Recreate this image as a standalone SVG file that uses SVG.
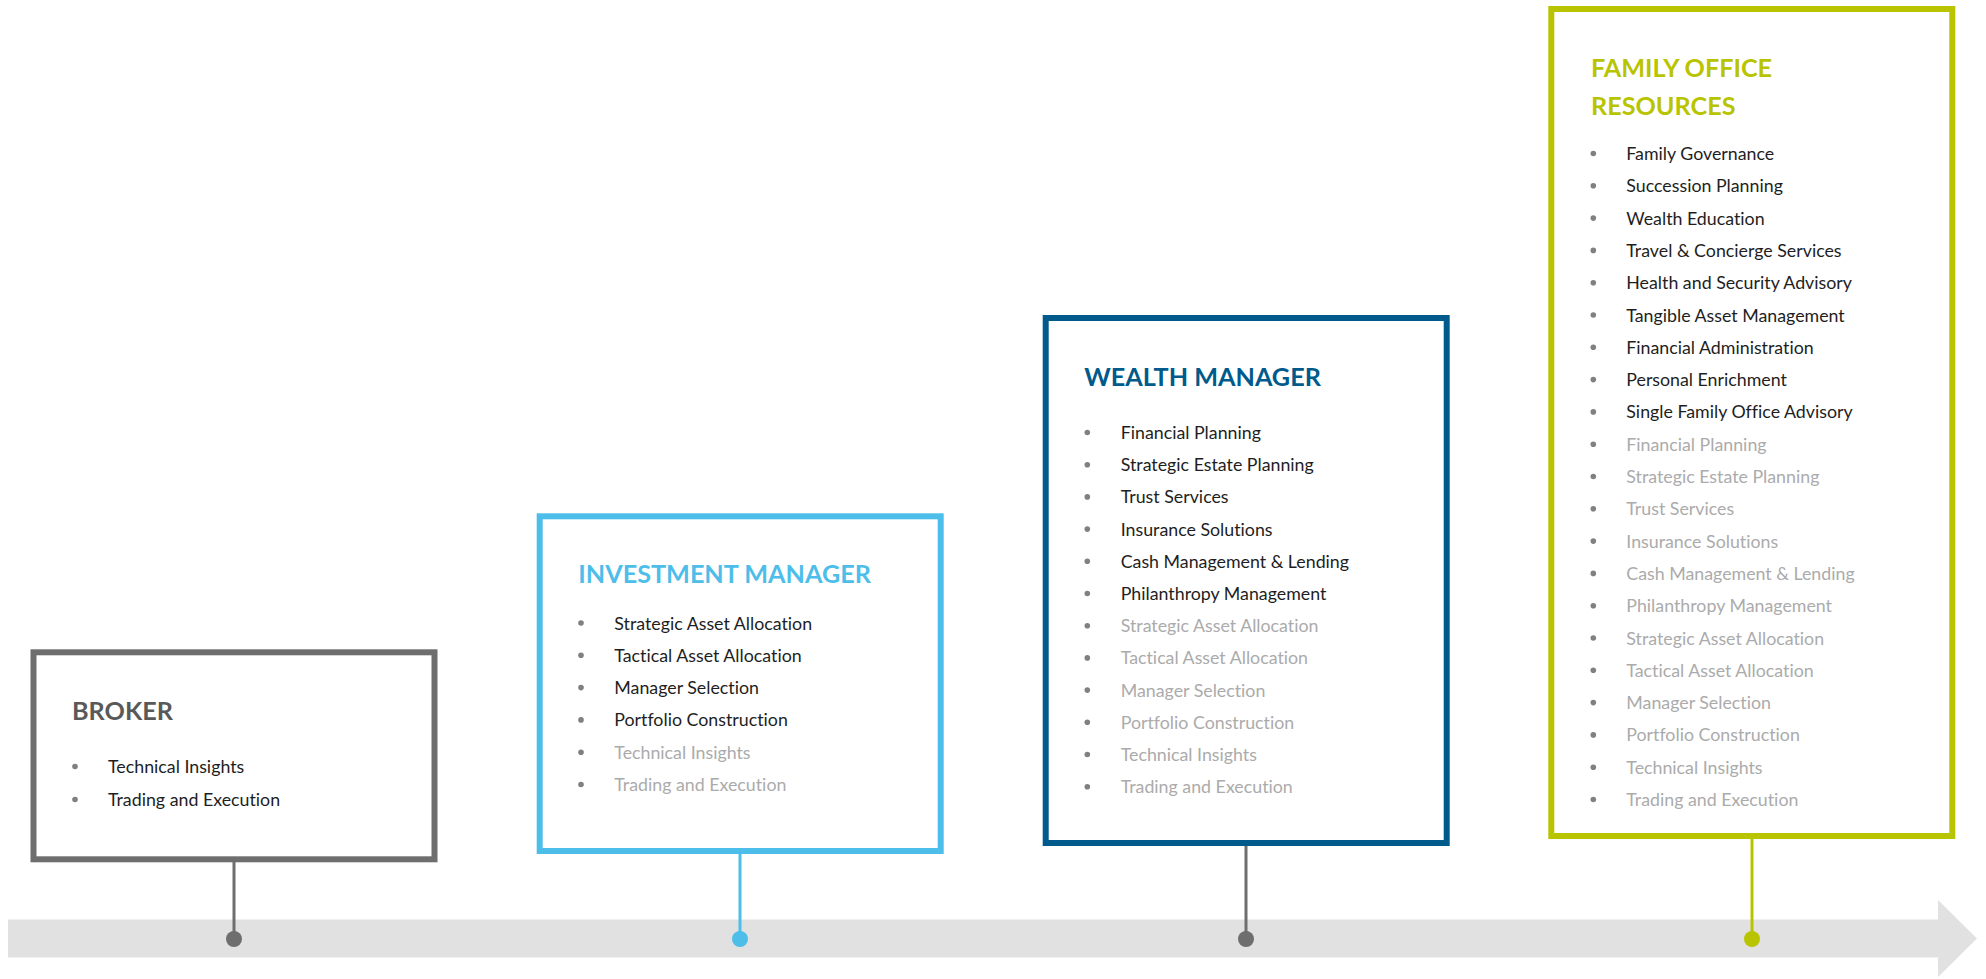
<svg xmlns="http://www.w3.org/2000/svg" width="1986" height="979" viewBox="0 0 1986 979">
<style>
text{font-family:Lato,"Liberation Sans",sans-serif;font-variant-ligatures:none}
.t{font-weight:700;font-size:25.2px}
.i{font-size:17.8px;fill:#1e1e1e}
.g{font-size:17.8px;fill:#ababab}
.b{fill:#808080}
.box{fill:#fff;stroke-width:6}
</style>
<rect width="1986" height="979" fill="#fff"/>
<g id="timeline">
<polygon points="8,919.5 1938,919.5 1938,900 1977,938.5 1938,977 1938,957.5 8,957.5" fill="#e1e1e1"/>
</g>
<g id="connectors" stroke-width="3">
<line x1="234" y1="862" x2="234" y2="939" stroke="#6e6e6e"/>
<circle cx="234" cy="939" r="8" fill="#6e6e6e"/>
<line x1="740" y1="854" x2="740" y2="939" stroke="#4dbee9"/>
<circle cx="740" cy="939" r="8" fill="#4dbee9"/>
<line x1="1246" y1="846" x2="1246" y2="939" stroke="#6e6e6e"/>
<circle cx="1246" cy="939" r="8" fill="#6e6e6e"/>
<line x1="1752" y1="839" x2="1752" y2="939" stroke="#b9c400"/>
<circle cx="1752" cy="939" r="8" fill="#b9c400"/>
</g>
<g id="broker">
<rect class="box" x="33.5" y="652.3" width="401" height="207" stroke="#6e6e6e"/>
<text class="t" x="72" y="720" fill="#595959">BROKER</text>
<circle class="b" cx="75" cy="766.5" r="2.8"/><text class="i" x="108" y="773.3">Technical Insights</text>
<circle class="b" cx="75" cy="799.5" r="2.8"/><text class="i" x="108" y="806">Trading and Execution</text>
</g>
<g id="investment-manager">
<rect class="box" x="539.7" y="516.3" width="401" height="334.7" stroke="#4dbee9"/>
<text class="t" x="578.3" y="583.3" fill="#4dbee9">INVESTMENT MANAGER</text>
<circle class="b" cx="581" cy="623" r="2.8"/><text class="i" x="614.3" y="629.5">Strategic Asset Allocation</text>
<circle class="b" cx="581" cy="655.3" r="2.8"/><text class="i" x="614.3" y="661.8">Tactical Asset Allocation</text>
<circle class="b" cx="581" cy="687.6" r="2.8"/><text class="i" x="614.3" y="694.1">Manager Selection</text>
<circle class="b" cx="581" cy="719.9" r="2.8"/><text class="i" x="614.3" y="726.4">Portfolio Construction</text>
<circle class="b" cx="581" cy="752.2" r="2.8"/><text class="g" x="614.3" y="758.7">Technical Insights</text>
<circle class="b" cx="581" cy="784.5" r="2.8"/><text class="g" x="614.3" y="791">Trading and Execution</text>
</g>
<g id="wealth-manager">
<rect class="box" x="1045.7" y="318" width="401" height="525" stroke="#005a8b"/>
<text class="t" x="1084.3" y="385.5" fill="#005a8b">WEALTH MANAGER</text>
<circle class="b" cx="1087.3" cy="432.5" r="2.8"/><text class="i" x="1120.7" y="439">Financial Planning</text>
<circle class="b" cx="1087.3" cy="464.7" r="2.8"/><text class="i" x="1120.7" y="471.2">Strategic Estate Planning</text>
<circle class="b" cx="1087.3" cy="496.9" r="2.8"/><text class="i" x="1120.7" y="503.4">Trust Services</text>
<circle class="b" cx="1087.3" cy="529.1" r="2.8"/><text class="i" x="1120.7" y="535.6">Insurance Solutions</text>
<circle class="b" cx="1087.3" cy="561.3" r="2.8"/><text class="i" x="1120.7" y="567.8">Cash Management &amp; Lending</text>
<circle class="b" cx="1087.3" cy="593.5" r="2.8"/><text class="i" x="1120.7" y="600">Philanthropy Management</text>
<circle class="b" cx="1087.3" cy="625.7" r="2.8"/><text class="g" x="1120.7" y="632.2">Strategic Asset Allocation</text>
<circle class="b" cx="1087.3" cy="657.9" r="2.8"/><text class="g" x="1120.7" y="664.4">Tactical Asset Allocation</text>
<circle class="b" cx="1087.3" cy="690.1" r="2.8"/><text class="g" x="1120.7" y="696.6">Manager Selection</text>
<circle class="b" cx="1087.3" cy="722.3" r="2.8"/><text class="g" x="1120.7" y="728.8">Portfolio Construction</text>
<circle class="b" cx="1087.3" cy="754.5" r="2.8"/><text class="g" x="1120.7" y="761">Technical Insights</text>
<circle class="b" cx="1087.3" cy="786.7" r="2.8"/><text class="g" x="1120.7" y="793.2">Trading and Execution</text>
</g>
<g id="family-office-resources">
<rect class="box" x="1551.3" y="9" width="401" height="827" stroke="#b9c400"/>
<text class="t" fill="#b9c400"><tspan x="1591" y="76.7">FAMILY OFFICE</tspan><tspan x="1591" y="115">RESOURCES</tspan></text>
<circle class="b" cx="1593.3" cy="153.5" r="2.8"/><text class="i" x="1626.3" y="160">Family Governance</text>
<circle class="b" cx="1593.3" cy="185.8" r="2.8"/><text class="i" x="1626.3" y="192.3">Succession Planning</text>
<circle class="b" cx="1593.3" cy="218.1" r="2.8"/><text class="i" x="1626.3" y="224.6">Wealth Education</text>
<circle class="b" cx="1593.3" cy="250.4" r="2.8"/><text class="i" x="1626.3" y="256.9">Travel &amp; Concierge Services</text>
<circle class="b" cx="1593.3" cy="282.7" r="2.8"/><text class="i" x="1626.3" y="289.2">Health and Security Advisory</text>
<circle class="b" cx="1593.3" cy="315" r="2.8"/><text class="i" x="1626.3" y="321.5">Tangible Asset Management</text>
<circle class="b" cx="1593.3" cy="347.3" r="2.8"/><text class="i" x="1626.3" y="353.8">Financial Administration</text>
<circle class="b" cx="1593.3" cy="379.6" r="2.8"/><text class="i" x="1626.3" y="386.1">Personal Enrichment</text>
<circle class="b" cx="1593.3" cy="411.9" r="2.8"/><text class="i" x="1626.3" y="418.4">Single Family Office Advisory</text>
<circle class="b" cx="1593.3" cy="444.2" r="2.8"/><text class="g" x="1626.3" y="450.7">Financial Planning</text>
<circle class="b" cx="1593.3" cy="476.5" r="2.8"/><text class="g" x="1626.3" y="483">Strategic Estate Planning</text>
<circle class="b" cx="1593.3" cy="508.8" r="2.8"/><text class="g" x="1626.3" y="515.3">Trust Services</text>
<circle class="b" cx="1593.3" cy="541.1" r="2.8"/><text class="g" x="1626.3" y="547.6">Insurance Solutions</text>
<circle class="b" cx="1593.3" cy="573.4" r="2.8"/><text class="g" x="1626.3" y="579.9">Cash Management &amp; Lending</text>
<circle class="b" cx="1593.3" cy="605.7" r="2.8"/><text class="g" x="1626.3" y="612.2">Philanthropy Management</text>
<circle class="b" cx="1593.3" cy="638" r="2.8"/><text class="g" x="1626.3" y="644.5">Strategic Asset Allocation</text>
<circle class="b" cx="1593.3" cy="670.3" r="2.8"/><text class="g" x="1626.3" y="676.8">Tactical Asset Allocation</text>
<circle class="b" cx="1593.3" cy="702.6" r="2.8"/><text class="g" x="1626.3" y="709.1">Manager Selection</text>
<circle class="b" cx="1593.3" cy="734.9" r="2.8"/><text class="g" x="1626.3" y="741.4">Portfolio Construction</text>
<circle class="b" cx="1593.3" cy="767.2" r="2.8"/><text class="g" x="1626.3" y="773.7">Technical Insights</text>
<circle class="b" cx="1593.3" cy="799.5" r="2.8"/><text class="g" x="1626.3" y="806">Trading and Execution</text>
</g>
</svg>
